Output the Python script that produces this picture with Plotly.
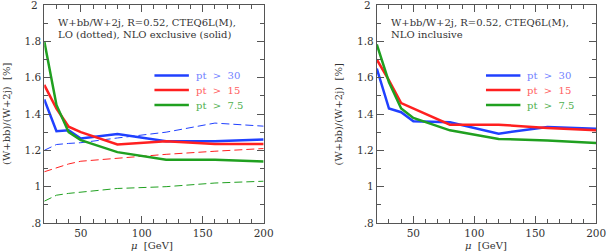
import plotly.graph_objects as go

mu = [20, 30, 40, 50, 80, 120, 160, 200]

# Left panel: NLO exclusive (solid)
excl_pt30 = [1.48, 1.305, 1.31, 1.265, 1.29, 1.25, 1.25, 1.26]
excl_pt15 = [1.56, 1.43, 1.33, 1.30, 1.232, 1.25, 1.235, 1.235]
excl_pt75 = [1.80, 1.45, 1.30, 1.256, 1.19, 1.148, 1.148, 1.139]
# Left panel: LO (dotted)
lo_pt30 = [1.20, 1.232, 1.238, 1.242, 1.268, 1.30, 1.35, 1.333]
lo_pt15 = [1.082, 1.105, 1.125, 1.14, 1.158, 1.178, 1.195, 1.21]
lo_pt75 = [0.92, 0.953, 0.963, 0.97, 0.99, 1.0, 1.02, 1.03]
# Right panel: NLO inclusive
incl_pt30 = [1.65, 1.43, 1.41, 1.36, 1.355, 1.292, 1.328, 1.319]
incl_pt15 = [1.70, 1.585, 1.46, 1.43, 1.341, 1.341, 1.323, 1.31]
incl_pt75 = [1.783, 1.575, 1.43, 1.378, 1.31, 1.263, 1.254, 1.24]

labels = ["pt > 30", "pt > 15", "pt > 7.5"]
colors = ["#2040ff", "#ff2020", "#20a020"]
text_colors = ["#6f80ff", "#ff6060", "#4fb04f"]

yticks = [0.8, 1.0, 1.2, 1.4, 1.6, 1.8]
yticklabels = [".8", "1", "1.2", "1.4", "1.6", "1.8"]
ytop_label = "2"
xticks = [50, 100, 150, 200]

W, H = 616, 251
TOP, BOT = 5, 223
FONT = "DejaVu Serif"
fig = go.Figure()

def add(xa, ya, ys, color, dash, width):
    fig.add_trace(go.Scatter(x=mu, y=ys, mode="lines", xaxis=xa, yaxis=ya,
                             line=dict(color=color, width=width, dash=dash),
                             showlegend=False, hoverinfo="skip"))

for ys, c in zip([lo_pt30, lo_pt15, lo_pt75], colors):
    add("x", "y", ys, c, "8px,4px", 1)
for ys, c in zip([excl_pt30, excl_pt15, excl_pt75], colors):
    add("x", "y", ys, c, "solid", 2.5)
for ys, c in zip([incl_pt30, incl_pt15, incl_pt75], colors):
    add("x2", "y2", ys, c, "solid", 2.5)

ax_common = dict(showline=True, mirror="allticks", linecolor="#555", linewidth=1,
                 ticks="inside", tickcolor="#555", showgrid=False, zeroline=False,
                 tickfont=dict(family=FONT, size=10.5, color="#333"))
xa = dict(range=[20, 200], tickvals=xticks, ticklen=7,
          minor=dict(dtick=10, tick0=0, ticks="inside", ticklen=4, tickcolor="#555"), **ax_common)
ya = dict(range=[0.8, 2.0], tickvals=yticks + [2.0], ticktext=yticklabels + [""], ticklen=7,
          minor=dict(dtick=0.1, tick0=0, ticks="inside", ticklen=4, tickcolor="#555"), **ax_common)

L1, R1 = 45 / W, 268 / W
L2, R2 = 383 / W, 606 / W
fig.update_layout(
    width=W, height=H, margin=dict(l=0, r=0, t=TOP, b=H - BOT),
    paper_bgcolor="white", plot_bgcolor="white",
    xaxis=dict(domain=[L1, R1], anchor="y", **xa),
    yaxis=dict(domain=[0, 1], anchor="x", **ya),
    xaxis2=dict(domain=[L2, R2], anchor="y2", **xa),
    yaxis2=dict(domain=[0, 1], anchor="x2", **ya),
)

def py(y):
    return (BOT - y) / (BOT - TOP)

ann = []
def txt(x, y, s, color="#333", xanchor="left", angle=0, size=10):
    ann.append(dict(x=x / W, y=py(y), xref="paper", yref="paper", text=s,
                    showarrow=False, xanchor=xanchor, yanchor="middle", textangle=angle,
                    font=dict(family=FONT, size=size, color=color)))

# top y tick label "2", drawn as text because it sits on the figure edge
for xr in (41, 379):
    ann.append(dict(x=xr / W, y=1, xref="paper", yref="paper", text=ytop_label,
                    showarrow=False, xanchor="right", yanchor="middle",
                    font=dict(family=FONT, size=10.5, color="#333")))

sp = "\u00a0"
txt(57, 23, "W+bb/W+2j," + sp + "R=0.52," + sp + "CTEQ6L(M),")
txt(57, 35, "LO" + sp + "(dotted)," + sp + "NLO" + sp + "exclusive" + sp + "(solid)")
txt(395, 23, "W+bb/W+2j," + sp + "R=0.52," + sp + "CTEQ6L(M),")
txt(395, 35, "NLO" + sp + "inclusive")

for i, (lab, tc) in enumerate(zip(labels, text_colors)):
    yy = [75.5, 90, 105][i]
    for x0 in (197, 534):
        txt(x0, yy, lab.replace(" ", sp * 2), color=tc)

# legend line samples
shapes = []
for i, c in enumerate(colors):
    yy = py([75.5, 90, 105][i])
    for x0, x1 in ((157, 192), (494, 529)):
        shapes.append(dict(type="line", xref="paper", yref="paper", x0=x0 / W, x1=x1 / W,
                           y0=yy, y1=yy, line=dict(color=c, width=2.5)))

txt(6, 114, "(W+bb)/(W+2j)" + sp * 2 + "[%]", angle=-90, xanchor="center")
txt(344, 114, "(W+bb)/(W+2j)" + sp * 2 + "[%]", angle=-90, xanchor="center")
txt(155, 245, "<i>μ</i>" + sp * 2 + "[GeV]", xanchor="center")
txt(494, 245, "<i>μ</i>" + sp * 2 + "[GeV]", xanchor="center")

fig.update_layout(annotations=ann, shapes=shapes)
fig.write_html("out.html", config={"displayModeBar": False},
               post_script="document.body.style.margin='0';")
